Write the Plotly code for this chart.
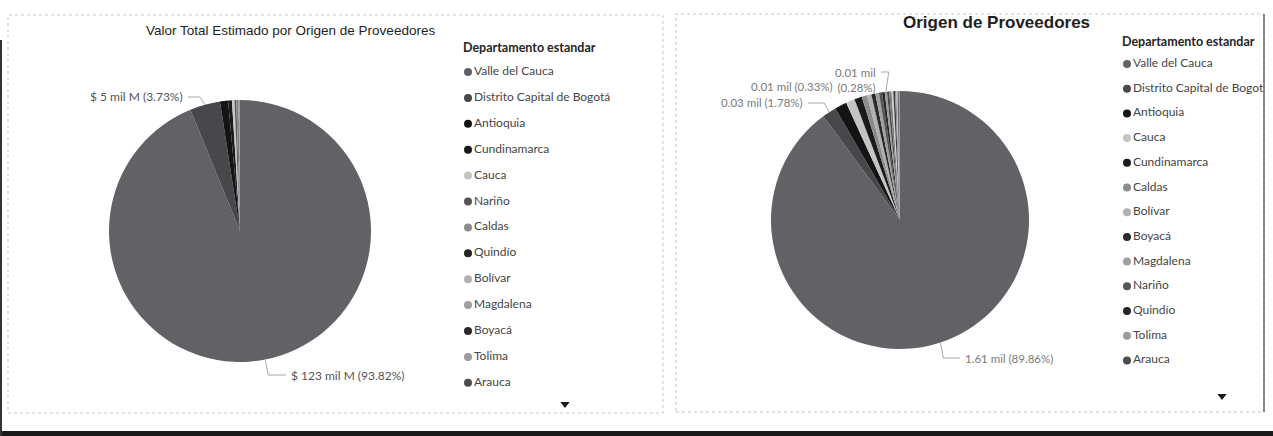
import math
import plotly.graph_objects as go

W, H = 1273, 436

# ---------------- data ----------------
# Left chart: Valor total estimado (miles de millones de pesos = "mil M")
dept_valor = ["Valle del Cauca", "Distrito Capital de Bogotá", "Antioquia", "Cundinamarca",
              "Cauca", "Nariño", "Caldas", "Quindío", "Bolívar", "Magdalena", "Boyacá",
              "Tolima", "Arauca", "Risaralda", "Santander"]
valor_milM = [123.0, 4.89, 1.30, 0.62, 0.42, 0.28, 0.19, 0.13, 0.09, 0.06, 0.045,
              0.03, 0.02, 0.015, 0.01]

# Right chart: número de proveedores por origen
dept_count = ["Valle del Cauca", "Distrito Capital de Bogotá", "Antioquia", "Cauca",
              "Cundinamarca", "Caldas", "Bolívar", "Boyacá", "Magdalena", "Nariño",
              "Quindío", "Tolima", "Arauca", "Risaralda", "Santander", "Atlántico",
              "Huila", "Meta", "Córdoba", "Norte de Santander", "Sucre"]
count = [1613, 32, 27, 20, 17, 12, 10, 9, 8, 7, 6, 5, 5, 5, 4, 4, 3, 3, 2, 2, 1]

legend_title = "Departamento estandar"
title_left = "Valor Total Estimado por Origen de Proveedores"
title_right = "Origen de Proveedores"
legend_visible = 13

dept_color = {
    "Valle del Cauca": "#616166",
    "Distrito Capital de Bogotá": "#48484c",
    "Antioquia": "#141414",
    "Cundinamarca": "#1a1a1a",
    "Cauca": "#c4c4c4",
    "Nariño": "#555558",
    "Caldas": "#8c8c8c",
    "Quindío": "#262626",
    "Bolívar": "#b0b0b0",
    "Magdalena": "#a0a0a0",
    "Boyacá": "#2a2a2a",
    "Tolima": "#9c9c9c",
    "Arauca": "#4c4c4c",
    "Risaralda": "#7a7a7a",
    "Santander": "#d0d0d0",
    "Atlántico": "#3a3a3a",
    "Huila": "#888888",
    "Meta": "#bbbbbb",
    "Córdoba": "#333333",
    "Norte de Santander": "#999999",
    "Sucre": "#666666",
}

# ---------------- layout helpers ----------------
def px(x):
    return x / W

def py(y):
    return 1 - y / H

FONT = "Segoe UI, Lato, Open Sans, sans-serif"

# pie geometry (pixels): centre and radius
LEFT_PIE = (240, 231, 131)
RIGHT_PIE = (900, 220, 129)

# label placement (pixels): anchor x, y, side, leader
LEFT_LABELS = {
    "Valle del Cauca": dict(x=289, y=375, side="left", leader=True, fmt="one"),
    "Distrito Capital de Bogotá": dict(x=185, y=97, side="right", leader=True, fmt="one"),
}
RIGHT_LABELS = {
    "Valle del Cauca": dict(x=963, y=358, side="left", leader=True, fmt="one"),
    "Distrito Capital de Bogotá": dict(x=805, y=103, side="right", leader=True, fmt="one"),
    "Quindío": dict(x=835, y=87, side="right", leader=False, fmt="one"),
    "Tolima": dict(x=878, y=79.5, side="right", leader=True, fmt="two", ly=72),
}


def edge_point(pie, values, idx):
    cx, cy, r = pie
    total = sum(values)
    frac = (sum(values[:idx]) + values[idx] / 2) / total
    a = 2 * math.pi * frac  # clockwise from 12 o'clock
    return cx + r * math.sin(a), cy - r * math.cos(a)


fig = go.Figure()

fig.add_trace(go.Pie(
    labels=dept_valor, values=valor_milM, sort=False, direction="clockwise", rotation=0,
    marker=dict(colors=[dept_color[d] for d in dept_valor], line=dict(width=0)),
    textinfo="none",
    domain=dict(x=[px(LEFT_PIE[0] - LEFT_PIE[2]), px(LEFT_PIE[0] + LEFT_PIE[2])],
                y=[py(LEFT_PIE[1] + LEFT_PIE[2]), py(LEFT_PIE[1] - LEFT_PIE[2])]),
    showlegend=False, hoverinfo="label+value+percent",
))

fig.add_trace(go.Pie(
    labels=dept_count, values=count, sort=False, direction="clockwise", rotation=0,
    marker=dict(colors=[dept_color[d] for d in dept_count], line=dict(width=0)),
    textinfo="none",
    domain=dict(x=[px(RIGHT_PIE[0] - RIGHT_PIE[2]), px(RIGHT_PIE[0] + RIGHT_PIE[2])],
                y=[py(RIGHT_PIE[1] + RIGHT_PIE[2]), py(RIGHT_PIE[1] - RIGHT_PIE[2])]),
    showlegend=False, hoverinfo="label+value+percent",
))

annotations = []
shapes = []


def add_labels(depts, values, pie, specs, textfn, font):
    total = sum(values)
    for name, sp in specs.items():
        i = depts.index(name)
        txt = textfn(values[i], values[i] / total, sp["fmt"])
        annotations.append(dict(
            text=txt, x=px(sp["x"]), y=py(sp["y"]), xref="paper", yref="paper",
            showarrow=False, xanchor="right" if sp["side"] == "right" else "left",
            yanchor="middle", align="right" if sp["side"] == "right" else "left",
            font=font))
        if sp["leader"]:
            ex, ey = edge_point(pie, values, i)
            ly = sp.get("ly", sp["y"])
            if sp["side"] == "right":
                elbow_x, end_x = ex + (3 if sp["fmt"] == "two" else -5), sp["x"] + 3
            else:
                elbow_x, end_x = ex + 3, sp["x"] - 3
            path = "M {} {} L {} {} L {} {}".format(px(ex), py(ey), px(elbow_x), py(ly), px(end_x), py(ly))
            shapes.append(dict(type="path", xref="paper", yref="paper", path=path,
                               line=dict(color="#a8a8a8", width=1)))


add_labels(dept_valor, valor_milM, LEFT_PIE, LEFT_LABELS,
           lambda v, p, f: "$ {:.0f} mil M ({:.2%})".format(v, p),
           dict(family=FONT, size=12, color="#555555"))
add_labels(dept_count, count, RIGHT_PIE, RIGHT_LABELS,
           lambda v, p, f: ("{:.2f} mil ({:.2%})" if f == "one" else "{:.2f} mil<br>({:.2%})").format(v / 1000, p),
           dict(family=FONT, size=11.5, color="#7a7a7a"))


# Custom legends (Power BI style), drawn on hidden axes
def add_legend(labels, xa, ya, title_y):
    fig.add_trace(go.Scatter(
        x=[-5], y=[title_y], mode="text", text=["<b>" + legend_title + "</b>"],
        textposition="middle right", textfont=dict(family=FONT, size=12.5, color="#252525"),
        xaxis=xa, yaxis=ya, showlegend=False, hoverinfo="skip", cliponaxis=True,
    ))
    fig.add_trace(go.Scatter(
        x=[0] * len(labels), y=list(range(len(labels))), mode="markers+text",
        text=labels, textposition="middle right",
        textfont=dict(family=FONT, size=12, color="#454545"),
        marker=dict(size=8, color=[dept_color[d] for d in labels]),
        xaxis=xa, yaxis=ya, showlegend=False, hoverinfo="skip", cliponaxis=True,
    ))


add_legend(dept_valor[:legend_visible], "x", "y", -0.89)
add_legend(dept_count[:legend_visible], "x2", "y2", -0.85)

# scroll arrows
fig.add_trace(go.Scatter(x=[97], y=[12.82], mode="markers",
                         marker=dict(symbol="triangle-down", size=8, color="#1a1a1a"),
                         xaxis="x", yaxis="y", showlegend=False, hoverinfo="skip"))
fig.add_trace(go.Scatter(x=[95], y=[13.44], mode="markers",
                         marker=dict(symbol="triangle-down", size=8, color="#1a1a1a"),
                         xaxis="x2", yaxis="y2", showlegend=False, hoverinfo="skip"))

annotations += [
    dict(text=title_left, x=px(290), y=py(30), xref="paper", yref="paper",
         showarrow=False, xanchor="center", yanchor="middle",
         font=dict(family="Liberation Sans, Arial", size=13.5, color="#1e1e1e")),
    dict(text="<b>" + title_right + "</b>", x=px(996), y=py(22), xref="paper", yref="paper",
         showarrow=False, xanchor="center", yanchor="middle",
         font=dict(family="Liberation Sans, Arial", size=17, color="#1e1e1e")),
]

shapes += [
    dict(type="rect", xref="paper", yref="paper", x0=px(8), x1=px(663), y0=py(413), y1=py(15),
         line=dict(color="#c4c4c4", width=1, dash="dot")),
    dict(type="rect", xref="paper", yref="paper", x0=px(676), x1=px(1264), y0=py(412), y1=py(14),
         line=dict(color="#c4c4c4", width=1, dash="dot")),
    dict(type="line", xref="paper", yref="paper", x0=px(1264), x1=px(1264), y0=py(412), y1=py(14),
         line=dict(color="#444444", width=1.2)),
    dict(type="rect", xref="paper", yref="paper", x0=0, x1=1, y0=0, y1=py(431),
         fillcolor="#1a1a1a", line=dict(width=0)),
    dict(type="rect", xref="paper", yref="paper", x0=0, x1=px(2), y0=0, y1=py(40),
         fillcolor="#333333", line=dict(width=0)),
]

hidden = dict(visible=False, showgrid=False, zeroline=False, fixedrange=True)
fig.update_layout(
    width=W, height=H, margin=dict(l=0, r=0, t=0, b=0),
    paper_bgcolor="white", plot_bgcolor="rgba(0,0,0,0)",
    xaxis=dict(domain=[px(455), px(663)], range=[-13, 195], **hidden),
    yaxis=dict(domain=[py(410), py(30)], range=[13.05, -1.6216], **hidden),
    xaxis2=dict(domain=[px(1110), px(1263)], range=[-17, 136], **hidden),
    yaxis2=dict(domain=[py(410), py(30)], range=[14.008, -1.3765], **hidden),
    annotations=annotations,
    shapes=shapes,
)

fig.write_html("out.html", config={"displayModeBar": False},
               post_script="document.body.style.margin='0';document.body.style.padding='0';"
                           "document.body.style.overflow='hidden';")
